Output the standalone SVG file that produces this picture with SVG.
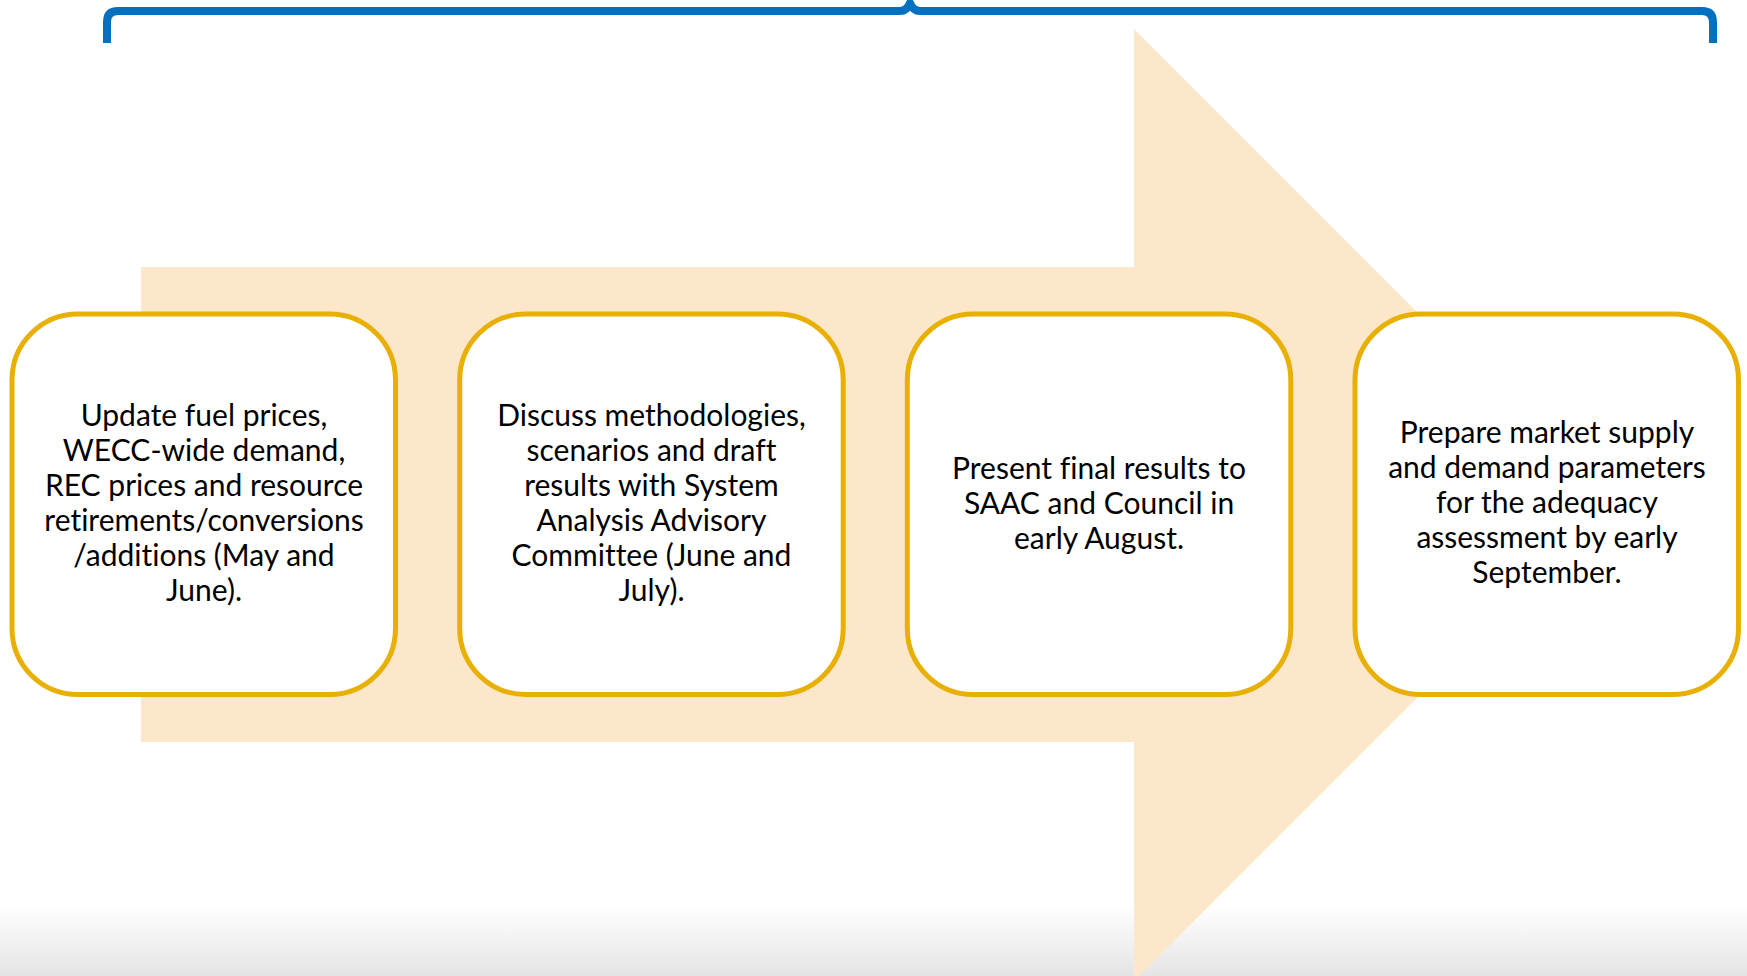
<svg xmlns="http://www.w3.org/2000/svg" width="1747" height="976" viewBox="0 0 1747 976">
<defs>
<linearGradient id="floor" x1="0" y1="0" x2="0" y2="1">
<stop offset="0" stop-color="#ffffff"/>
<stop offset="1" stop-color="#e4e4e4"/>
</linearGradient>
<style>
.box{fill:#ffffff;stroke:#e8b004;stroke-width:5}
.lbl{font-family:Lato,"Open Sans","Liberation Sans",sans-serif;font-size:30px;fill:#000000;text-anchor:middle;font-variant-ligatures:none;font-feature-settings:"liga" 0,"dlig" 0}
.brace{fill:none;stroke:#0070c0;stroke-width:8;stroke-linejoin:round}
</style>
</defs>
<rect x="0" y="0" width="1747" height="976" fill="#ffffff"/>
<rect x="0" y="905" width="1747" height="71" fill="url(#floor)"/>
<g id="arrow">
<polygon points="141,267 1134,267 1134,29 1610,505 1134,981 1134,742 141,742" fill="#fde7cb"/>
</g>
<g id="bracket">
<path class="brace" d="M107,43 V22 Q107,11 118,11 H900 Q907,11 910,3 Q913,11 920,11 H1702 Q1713,11 1713,22 V43"/>
</g>
<g id="connectors"></g>
<g id="node1">
<rect class="box" x="12" y="314" width="383.5" height="380.5" rx="66"/>
<text class="lbl" x="204" y="426">Update fuel prices,</text>
<text class="lbl" x="204" y="461">WECC-wide demand,</text>
<text class="lbl" x="204" y="496">REC prices and resource</text>
<text class="lbl" x="204" y="531">retirements/conversions</text>
<text class="lbl" x="204" y="566">/additions (May and</text>
<text class="lbl" x="204" y="601">June).</text>
</g>
<g id="node2">
<rect class="box" x="459.7" y="314" width="383.5" height="380.5" rx="66"/>
<text class="lbl" x="651.5" y="426">Discuss methodologies,</text>
<text class="lbl" x="651.5" y="461">scenarios and draft</text>
<text class="lbl" x="651.5" y="496">results with System</text>
<text class="lbl" x="651.5" y="531">Analysis Advisory</text>
<text class="lbl" x="651.5" y="566">Committee (June and</text>
<text class="lbl" x="651.5" y="601">July).</text>
</g>
<g id="node3">
<rect class="box" x="907.3" y="314" width="383.5" height="380.5" rx="66"/>
<text class="lbl" x="1099" y="479">Present final results to</text>
<text class="lbl" x="1099" y="514">SAAC and Council in</text>
<text class="lbl" x="1099" y="549">early August.</text>
</g>
<g id="node4">
<rect class="box" x="1355" y="314" width="383.5" height="380.5" rx="66"/>
<text class="lbl" x="1547" y="443">Prepare market supply</text>
<text class="lbl" x="1547" y="478">and demand parameters</text>
<text class="lbl" x="1547" y="513">for the adequacy</text>
<text class="lbl" x="1547" y="548">assessment by early</text>
<text class="lbl" x="1547" y="583">September.</text>
</g>
</svg>
